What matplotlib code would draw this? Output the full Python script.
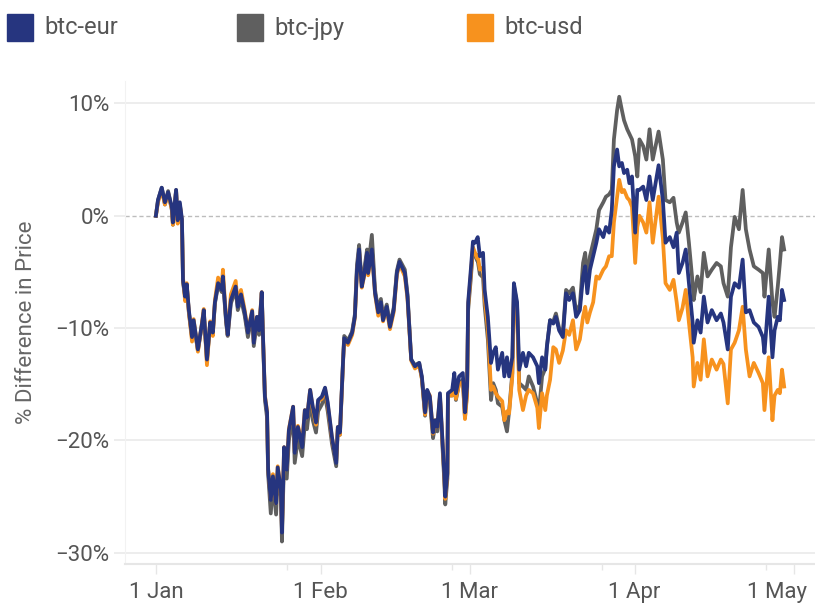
import matplotlib
matplotlib.use('Agg')
import matplotlib.pyplot as plt
from matplotlib.patches import Rectangle
from matplotlib.ticker import FuncFormatter
from matplotlib.transforms import ScaledTranslation

plt.rcParams['font.family'] = ['Roboto', 'DejaVu Sans']

# days since 1 Jan
days = [0.0, 0.4, 1.1, 1.7, 2.3, 3.0, 3.2, 3.8, 4.1, 4.5, 4.9, 5.1, 5.5, 5.8, 6.2, 6.8, 7.1, 7.9, 8.7, 9.0,
        9.6, 10.2, 10.7, 11.1, 11.7, 12.4, 12.6, 13.2, 13.5, 14.1, 15.0, 15.4, 16.0, 16.7, 17.3, 18.1, 18.4, 19.0, 19.4, 19.9,
        20.1, 20.5, 20.9, 21.1, 21.6, 22.0, 22.6, 22.9, 23.5, 23.7, 24.1, 24.6, 25.0, 25.8, 26.1, 26.7, 27.5, 28.0, 28.4, 29.0,
        29.5, 30.1, 30.5, 31.2, 31.8, 32.3, 33.1, 33.9, 34.2, 34.6, 35.2, 35.4, 36.1, 36.9, 37.4, 37.8, 38.2, 38.7, 39.1, 39.7,
        39.9, 40.6, 41.2, 41.8, 42.3, 42.7, 43.4, 44.0, 44.7, 45.3, 45.8, 46.8, 47.3, 48.0, 48.7, 49.5, 50.0, 50.6, 51.0, 51.5,
        52.1, 52.5, 52.9, 53.4, 53.8, 54.2, 54.4, 54.8, 54.9, 55.7, 56.1, 56.4, 57.0, 57.7, 58.1, 58.5, 58.7, 59.2, 59.6, 60.0,
        60.4, 60.5, 60.9, 61.5, 61.8, 62.4, 63.0, 63.4, 63.9, 64.3, 65.1, 65.5, 66.0, 66.4, 67.0, 67.3, 67.9, 68.3, 69.0, 69.6,
        70.1, 70.9, 71.7, 72.0, 72.6, 73.2, 73.5, 74.1, 74.7, 75.2, 75.8, 76.5, 77.1, 77.7, 78.4, 79.0, 79.7, 80.3, 80.7, 81.1,
        81.6, 82.2, 82.8, 83.3, 84.1, 84.6, 85.2, 85.7, 86.1, 86.7, 87.1, 87.6, 88.0, 88.6, 89.0, 89.5, 90.1, 90.5, 90.9, 91.6,
        92.2, 92.8, 93.4, 94.5, 95.3, 95.8, 96.6, 97.3, 97.9, 98.3, 99.0, 99.6, 100.2, 100.9, 101.1, 101.8, 102.4, 103.0, 103.7, 104.5,
        105.4, 106.2, 106.7, 107.5, 108.1, 108.8, 109.6, 110.3, 110.9, 111.6, 112.4, 113.3, 114.1, 114.4, 115.2, 115.9, 116.3, 116.9, 117.3, 117.7,
        118.1]

btc_eur = [0.0, 1.4, 2.5, 1.2, 2.1, 0.8, -0.6, 2.3, -0.4, 1.2, -0.3, -5.7, -7.2, -6.1, -8.4, -10.8, -9.3, -11.9, -9.5, -8.4,
           -12.8, -9.5, -10.4, -7.7, -6.0, -6.6, -5.4, -9.3, -10.6, -7.5, -6.3, -8.1, -7.0, -8.6, -10.4, -8.5, -11.3, -9.0, -10.2, -6.8,
           -10.2, -16.1, -17.5, -22.6, -25.3, -23.2, -25.6, -22.4, -24.4, -28.2, -20.6, -22.6, -19.1, -17.0, -21.1, -18.8, -20.6, -17.3, -18.0, -15.5,
           -17.0, -18.4, -16.4, -16.1, -15.3, -16.6, -19.7, -22.0, -18.8, -19.3, -12.8, -10.9, -11.3, -10.4, -9.0, -4.8, -3.0, -6.3, -5.4, -3.3,
           -5.1, -3.0, -6.9, -8.6, -7.7, -9.3, -8.1, -9.9, -8.4, -5.1, -4.1, -5.1, -7.2, -12.8, -13.4, -13.1, -14.3, -17.5, -15.5, -16.1,
           -19.3, -18.2, -18.8, -15.8, -19.3, -22.9, -25.0, -22.9, -15.8, -15.5, -14.0, -15.8, -14.3, -14.0, -17.5, -15.2, -7.7, -4.8, -2.3, -2.4,
           -2.0, -1.9, -3.6, -3.3, -6.6, -9.0, -13.1, -12.2, -11.7, -13.7, -12.2, -14.3, -12.6, -14.3, -12.6, -6.0, -7.7, -13.7, -12.2, -13.4,
           -12.2, -12.6, -13.4, -14.9, -12.6, -13.7, -11.7, -9.3, -9.6, -9.0, -10.2, -10.8, -6.9, -7.5, -6.9, -9.0, -8.4, -5.4, -4.5, -6.9,
           -4.8, -3.6, -2.4, -1.2, -1.9, -1.0, -1.5, 0.5, 4.4, 5.9, 4.4, 4.7, 3.8, 4.1, 2.9, 3.5, -1.5, 2.3, 2.3, 2.6,
           1.4, 3.5, 1.4, 4.5, 1.4, -2.4, -1.9, -2.8, -1.5, -5.1, -4.2, -3.0, -6.0, -9.5, -11.3, -9.3, -10.4, -7.2, -9.5, -8.4,
           -9.3, -8.7, -9.5, -11.9, -7.2, -6.0, -6.4, -3.9, -8.6, -8.4, -9.5, -9.9, -10.8, -12.2, -7.2, -12.6, -10.2, -9.0, -9.3, -6.6,
           -7.5]

btc_jpy = [0.0, 1.4, 2.5, 1.0, 2.2, 0.5, -0.8, 2.3, -0.6, 1.0, -0.5, -5.9, -7.3, -6.2, -8.6, -10.9, -9.5, -12.0, -9.6, -8.6,
           -12.9, -9.6, -10.5, -7.8, -6.2, -6.8, -5.6, -9.5, -10.7, -7.8, -6.6, -8.4, -7.4, -8.9, -10.8, -8.8, -11.6, -9.4, -10.6, -6.9,
           -10.4, -16.4, -18.0, -23.0, -26.5, -23.8, -26.6, -23.0, -25.0, -29.0, -21.5, -23.4, -20.0, -17.8, -22.0, -19.8, -21.4, -18.5, -19.0, -16.5,
           -18.2, -19.3, -17.4, -16.8, -16.0, -17.4, -20.3, -22.3, -19.0, -19.5, -12.7, -10.7, -11.1, -10.3, -8.8, -4.4, -2.6, -6.0, -5.0, -3.0,
           -4.6, -1.7, -6.6, -8.4, -7.4, -9.0, -7.9, -9.7, -8.2, -4.9, -3.9, -4.8, -7.0, -12.8, -13.3, -13.1, -14.5, -17.8, -15.8, -16.5,
           -19.8, -18.6, -19.2, -16.2, -19.8, -23.5, -25.7, -23.4, -16.0, -16.0, -14.5, -16.4, -14.9, -14.6, -18.0, -15.7, -8.4, -5.6, -3.0, -3.5,
           -4.0, -4.0, -5.2, -5.5, -8.0, -11.0, -16.4, -14.9, -15.5, -16.7, -17.0, -18.2, -19.2, -17.4, -14.0, -6.2, -8.0, -14.9, -15.2, -15.5,
           -14.3, -15.2, -16.7, -17.5, -14.3, -13.6, -11.6, -9.3, -9.4, -8.7, -10.0, -10.4, -6.6, -6.9, -6.4, -8.6, -7.9, -4.2, -3.3, -5.6,
           -3.6, -2.4, -1.2, 0.5, 1.2, 1.7, 1.9, 2.3, 6.8, 9.4, 10.6, 9.4, 8.5, 7.7, 7.3, 6.8, 5.3, 3.5, 6.8, 6.2,
           5.0, 7.7, 5.0, 7.5, 5.0, 1.4, 1.2, 1.6, -0.6, -1.5, -0.6, 0.3, -2.4, -6.0, -7.5, -5.4, -6.8, -3.3, -5.4, -4.8,
           -4.2, -4.5, -6.0, -7.2, -2.8, -0.1, -1.2, 2.3, -1.2, -3.0, -4.5, -4.8, -5.1, -7.2, -3.0, -7.7, -9.0, -6.3, -4.2, -1.9,
           -3.0]

btc_usd = [0.0, 1.2, 2.3, 1.0, 2.0, 0.6, -0.8, 2.2, -0.7, 1.0, -0.5, -5.5, -7.6, -6.0, -8.6, -11.2, -9.2, -12.1, -9.4, -8.3,
           -13.3, -9.4, -10.7, -7.5, -5.5, -6.2, -4.8, -9.2, -10.6, -7.0, -5.8, -7.8, -6.6, -8.4, -10.3, -8.4, -11.2, -9.0, -10.1, -6.8,
           -10.2, -16.0, -17.4, -22.5, -25.2, -23.0, -25.6, -22.3, -24.3, -28.0, -20.6, -22.5, -19.0, -17.0, -21.0, -18.7, -20.2, -17.3, -18.0, -15.5,
           -17.2, -18.6, -16.5, -16.3, -15.4, -16.8, -19.8, -21.8, -18.8, -19.5, -12.9, -11.0, -11.5, -10.6, -9.1, -5.0, -3.2, -6.4, -5.5, -3.5,
           -5.3, -3.2, -7.0, -8.9, -7.8, -9.4, -8.3, -10.1, -8.6, -5.3, -4.3, -5.4, -7.4, -12.9, -13.6, -13.3, -14.5, -17.7, -15.6, -16.0,
           -19.4, -18.2, -18.8, -16.0, -19.5, -23.0, -25.2, -23.0, -16.0, -16.0, -14.6, -16.3, -15.0, -14.8, -18.1, -16.0, -8.0, -5.2, -2.8, -3.3,
           -3.8, -3.5, -4.8, -4.6, -7.3, -10.0, -15.5, -15.2, -15.8, -16.1, -16.5, -18.2, -17.4, -17.6, -14.3, -7.2, -8.7, -15.5, -17.3, -16.0,
           -15.5, -15.8, -17.1, -18.9, -15.8, -17.3, -16.0, -14.6, -11.7, -11.9, -13.1, -12.0, -10.2, -10.6, -9.3, -11.9, -11.0, -9.0, -8.1, -9.5,
           -8.6, -7.7, -5.4, -5.6, -4.8, -4.5, -3.6, -3.6, -0.6, 1.7, 3.2, 2.1, 2.3, 1.6, 1.4, 0.8, -4.2, -1.0, 0.0, -0.6,
           -1.5, 1.2, -2.4, 1.7, -2.0, -6.0, -6.6, -5.7, -7.7, -9.3, -8.2, -6.6, -9.5, -12.6, -15.2, -13.1, -14.6, -11.0, -14.3, -12.8,
           -13.7, -12.8, -13.2, -16.7, -11.9, -11.3, -10.2, -8.1, -11.9, -14.3, -13.1, -14.0, -14.9, -17.3, -12.6, -18.2, -16.0, -15.5, -15.8, -13.7,
           -15.2]

names = ['btc-eur', 'btc-jpy', 'btc-usd']
colors = ['#26357f', '#5f5f5f', '#f7921e']

month_days = [0, 31, 59, 90, 120]
month_labels = ['1 Jan', '1 Feb', '1 Mar', '1 Apr', '1 May']
minor_days = [24.6, 55.7, 83.9, 114.7]
y_ticks = [-30, -20, -10, 0, 10]

fig = plt.figure(figsize=(8.15, 6.03), dpi=100)
ax = fig.add_axes([0.1534, 0.0647, 0.8466, 0.801])

ax.plot(days, btc_jpy, color=colors[1], lw=2.7, solid_joinstyle='round', zorder=3)
ax.plot(days, btc_usd, color=colors[2], lw=2.7, solid_joinstyle='round', zorder=3)
ax.plot(days, btc_eur, color=colors[0], lw=2.7, solid_joinstyle='round', zorder=4)

for v in y_ticks:
    if v == 0:
        ax.axhline(v, color='#bdbdbd', lw=1, ls=(0, (3, 2)), zorder=1)
    else:
        ax.axhline(v, color='#ececec', lw=1.3, zorder=1)

ax.set_xlim(-5.8, 123.9)
ax.set_ylim(-31.0, 12.0)

ax.set_xticks(month_days)
ax.set_xticklabels(month_labels)
ax.set_xticks(minor_days, minor=True)
ax.set_yticks(y_ticks)
ax.yaxis.set_major_formatter(FuncFormatter(lambda v, p: '%d%%' % v if v >= 0 else '\u2212%d%%' % -v))

ax.tick_params(axis='x', which='major', length=7, width=1, color='#e6e6e6', labelsize=16,
               labelcolor='#555555', pad=6)
ax.tick_params(axis='x', which='minor', length=4, width=1, color='#e6e6e6')
ax.tick_params(axis='y', length=8, width=1.3, color='#ececec', labelsize=16,
               labelcolor='#555555', pad=3)

# keep the last date label inside the figure
last = ax.get_xticklabels()[-1]
last.set_transform(last.get_transform() + ScaledTranslation(-0.17, 0, fig.dpi_scale_trans))

for s in ['top', 'right']:
    ax.spines[s].set_visible(False)
ax.spines['left'].set_color('#f2f2f2')
ax.spines['bottom'].set_color('#e6e6e6')
ax.spines['bottom'].set_linewidth(1.5)

ax.set_ylabel('% Difference in Price', fontsize=16, color='#666666')
ax.yaxis.set_label_coords(-0.128, 0.5)

# legend along the top
for i in range(3):
    x0 = (7 + i * 230) / 815
    fig.add_artist(Rectangle((x0, 1 - 41 / 603), 26 / 815, 27 / 603,
                             transform=fig.transFigure, color=colors[i]))
    fig.text(x0 + 37 / 815, 1 - 28 / 603, names[i], fontsize=17,
             color='#555555', va='center', ha='left')

fig.savefig('out.png', dpi=100)
